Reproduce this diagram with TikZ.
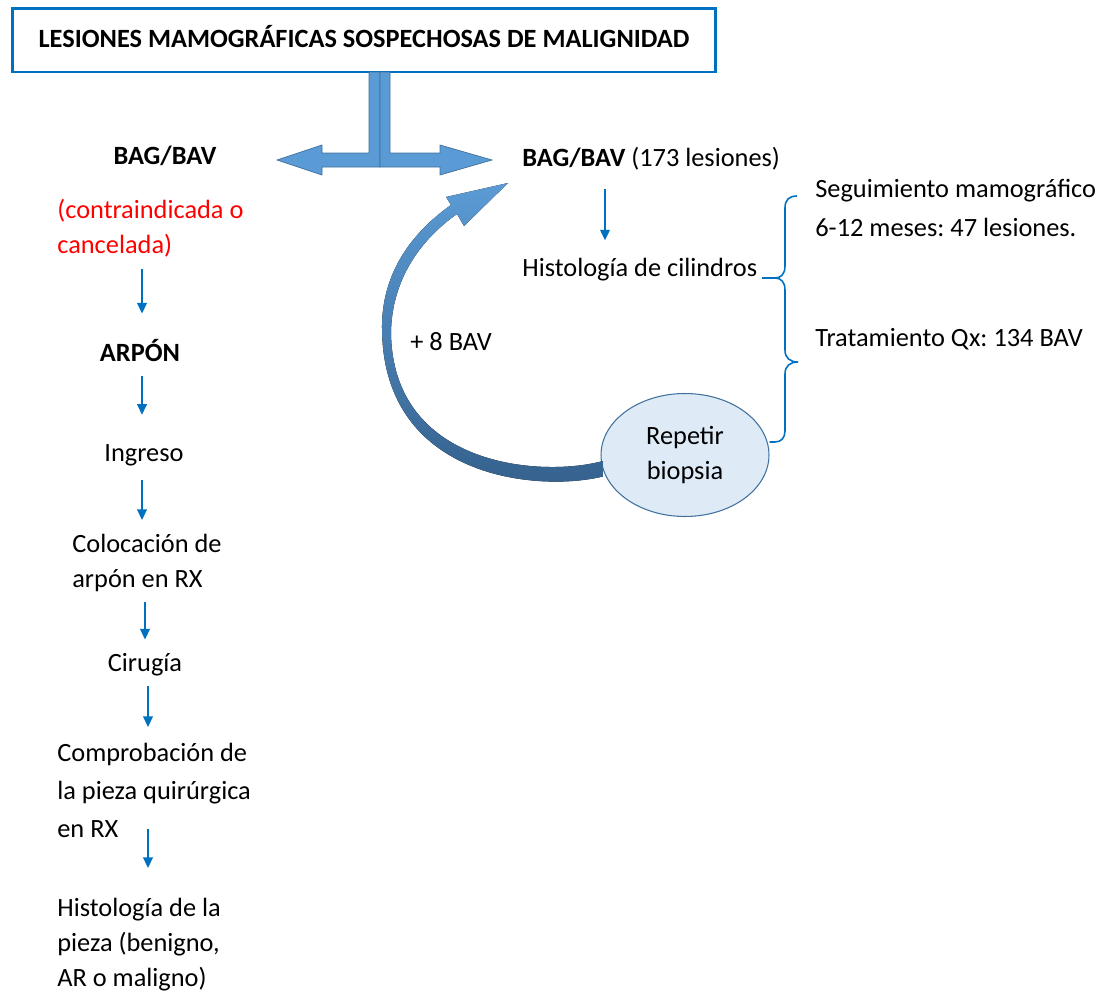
\documentclass[tikz,border=0pt]{standalone}
\usepackage{fontspec}
\setmainfont{Carlito}
\usetikzlibrary{shapes.geometric,arrows.meta,positioning,calc}
\definecolor{Ocean}{RGB}{0,112,192}
\definecolor{Sky}{RGB}{91,155,213}
\definecolor{Steel}{RGB}{65,113,156}
\definecolor{SteelDark}{RGB}{52,96,140}
\definecolor{Mist}{RGB}{222,235,247}
\frenchspacing
\tikzset{
  tbox/.style={rectangle,draw=Ocean,line width=1.7pt,minimum width=14.08cm,
               minimum height=1.28cm,inner sep=0pt,text depth=4.5pt,
               font=\fontsize{15}{20}\selectfont\bfseries},
  ttext/.style={inner sep=0pt,align=left,font=\fontsize{15}{20}\selectfont},
  tbold/.style={ttext,font=\fontsize{15}{20}\selectfont\bfseries},
  tloop/.style={ellipse,draw=Steel,fill=Mist,line width=0.6pt,minimum width=3.36cm,
                minimum height=2.46cm,inner sep=0pt,align=center,
                font=\fontsize{15}{20}\selectfont},
  tflow/.style={-{Triangle[length=6pt,width=5.5pt]},draw=Ocean,line width=0.9pt},
  tblock/.style={fill=Sky,draw=Steel,line width=0.4pt},
  tbrace/.style={draw=Ocean,line width=0.9pt},
}
\begin{document}
\begin{tikzpicture}[x=0.02cm,y=-0.02cm]
  \useasboundingbox (0,0) rectangle (1107,994);
  \node[tbox] (title) at (364,40) {LESIONES MAMOGRÁFICAS SOSPECHOSAS DE MALIGNIDAD};

  % left column
  \node[tbold,anchor=base] (bagL) at (165,164) {BAG/BAV};
  \node[ttext,anchor=north west,text=red] (contra) at (57,199) {(contraindicada o\\cancelada)};
  \node[tbold,anchor=base] (arpon) at (140,361) {ARPÓN};
  \node[ttext,anchor=base] (ingreso) at (144,461) {Ingreso};
  \node[ttext,anchor=north west] (coloc) at (72,534) {Colocación de\\arpón en RX};
  \node[ttext,anchor=base] (cirugia) at (145,671) {Cirugía};
  \node[ttext,anchor=north west,font=\fontsize{15}{21.5}\selectfont] (compro) at (57,743)
    {Comprobación de\\la pieza quirúrgica\\en RX};
  \node[ttext,anchor=north west] (histp) at (57,898) {Histología de la\\pieza (benigno,\\AR o maligno)};

  % right column
  \node[ttext,anchor=base west] (bagR) at (522,166) {\textbf{BAG/BAV} (173 lesiones)};
  \node[ttext,anchor=base west] (cil) at (522,276) {Histología de cilindros};
  \node[ttext,anchor=north west,font=\fontsize{15}{22}\selectfont] (segui) at (815,179)
    {Seguimiento mamográfico\\6-12 meses: 47 lesiones.};
  \node[ttext,anchor=base west] (trat) at (815,346) {Tratamiento Qx: 134 BAV};
  \node[tloop] (repetir) at (685,455) {Repetir\\biopsia};
  \node[ttext,anchor=base west] (extra) at (410,350) {+ 8 BAV};

  % split arrow under the title
  \draw[tblock] (380,72) -- (380,167) -- (322,167) -- (322,175) -- (277,160)
    -- (322,145) -- (322,153) -- (369,153) -- (369,72) -- cycle;
  \draw[tblock] (380,72) -- (380,167) -- (440,167) -- (440,175) -- (492,160)
    -- (440,145) -- (440,153) -- (390,153) -- (390,72) -- cycle;

  % loop back to BAG/BAV
  \fill[top color=Sky,bottom color=SteelDark]
    (repetir.190) ++(0,7) .. controls (540,492) and (384,480) .. (382,330)
    .. controls (381,275) and (410,234) .. (451,205) -- (446,197) -- (508,183)
    -- (464,226) -- (457,214) .. controls (420,240) and (392,280) .. (391,332)
    .. controls (392,466) and (540,478) .. (603,461) -- cycle;

  \draw[tflow] ($(contra.south -| arpon)+(2,11)$) -- ($(arpon.north)+(2,-25)$);
  \draw[tflow] ($(arpon.south)+(2,14)$) -- ($(ingreso.north -| arpon)+(2,-29)$);
  \draw[tflow] ($(ingreso.south)+(-2,14)$) -- ($(coloc.north -| ingreso)+(-2,-14)$);
  \draw[tflow] ($(coloc.south -| cirugia)+(0,10)$) -- ($(cirugia.north)+(0,-13)$);
  \draw[tflow] ($(cirugia.south)+(3,10)$) -- ($(compro.north -| cirugia)+(3,-16)$);
  \draw[tflow] ($(compro.south -| cirugia)+(3,-9)$) -- ($(histp.north -| cirugia)+(3,-30)$);
  \draw[tflow] ($(bagR.south west)+(83,19)$) -- ($(cil.north west)+(83,-17)$);

  % brace
  \draw[tbrace] (762,278) -- (775,278) .. controls (781,278) and (785,274) .. (785,266)
    -- (785,208) .. controls (785,200) and (789,196) .. (797,196);
  \draw[tbrace] (775,278) .. controls (781,278) and (785,282) .. (785,290) -- (785,350)
    .. controls (785,358) and (790,362) .. (798,362) .. controls (790,362) and (785,366) .. (785,374)
    -- (785,431) .. controls (785,438) and (781,442) .. (775,442) -- (repetir.east |- 0,442);
\end{tikzpicture}
\end{document}
